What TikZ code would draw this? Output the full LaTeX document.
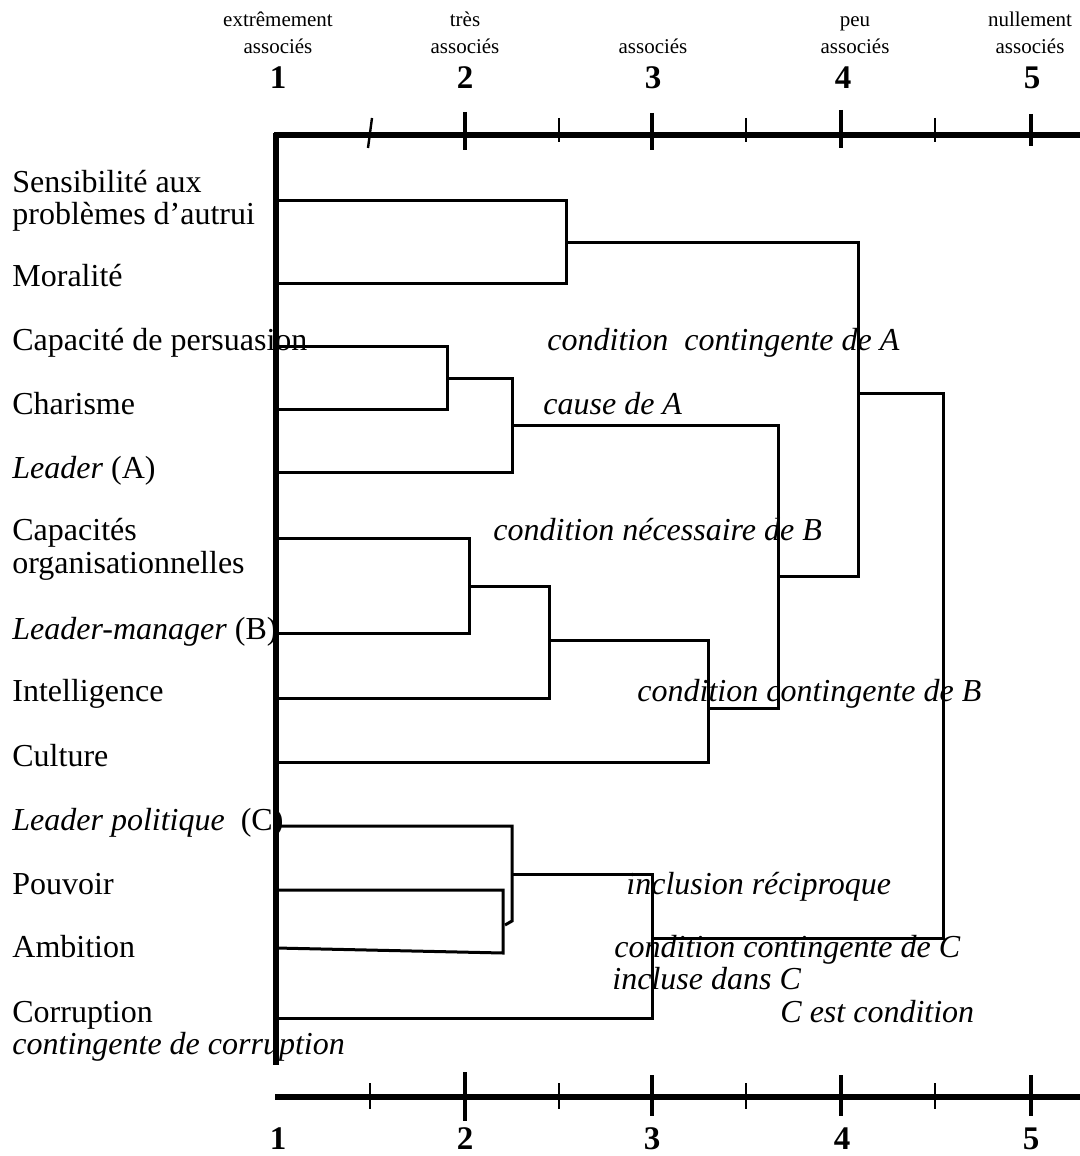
\documentclass[tikz,border=0pt]{standalone}
\usepackage{fontspec}
\setmainfont{Liberation Serif}
\begin{document}
\begin{tikzpicture}[x=0.5pt,y=-0.5pt,
  lbl/.style={anchor=base west,inner sep=0pt,font=\fontsize{16}{16}\selectfont},
  ann/.style={anchor=base west,inner sep=0pt,font=\fontsize{16}{16}\selectfont\itshape},
  hdr/.style={anchor=base,inner sep=0pt,font=\fontsize{10.5}{11}\selectfont},
  num/.style={anchor=base,inner sep=0pt,font=\fontsize{16.5}{17}\selectfont\bfseries},
  axisline/.style={line width=2.6pt},
  majortick/.style={line width=2.4pt},
  minortick/.style={line width=1.2pt},
  link/.style={line width=1.5pt,line join=miter}]
\useasboundingbox (0,0) rectangle (1080,1156);

% ---- scale headings ----
\node[hdr] (h1a) at (278,27) {extrêmement};
\node[hdr] (h1b) at (278,54) {associés};
\node[hdr] (h2a) at (465,27) {très};
\node[hdr] (h2b) at (465,54) {associés};
\node[hdr] (h3b) at (653,54) {associés};
\node[hdr] (h4a) at (855,27) {peu};
\node[hdr] (h4b) at (855,54) {associés};
\node[hdr] (h5a) at (1030,27) {nullement};
\node[hdr] (h5b) at (1030,54) {associés};
\node[num] (t1) at (278,89) {1};
\node[num] (t2) at (465,89) {2};
\node[num] (t3) at (653,89) {3};
\node[num] (t4) at (843,89) {4};
\node[num] (t5) at (1032,89) {5};

% ---- axes ----
\draw[axisline] (274,135) -- (1080,135);
\draw[axisline] (276,133) -- (276,1065);
\draw[axisline] (275,1097) -- (1080,1097);
% top ticks
\foreach \x/\a/\b in {465/112/150, 652/113/150, 841/110/148, 1031/114/146}
  \draw[majortick] (\x,\a) -- (\x,\b);
\foreach \x in {559,746,935}
  \draw[minortick] (\x,118) -- (\x,142);
\draw[minortick] (372,118) -- (368,148);
% bottom ticks
\draw[majortick] (465,1072) -- (465,1121);
\foreach \x in {652,841,1031}
  \draw[majortick] (\x,1075) -- (\x,1116);
\foreach \x in {370,559,746,935}
  \draw[minortick] (\x,1083) -- (\x,1109);
\node[num] (b1) at (278,1149) {1};
\node[num] (b2) at (465,1149) {2};
\node[num] (b3) at (652,1149) {3};
\node[num] (b4) at (842,1149) {4};
\node[num] (b5) at (1031,1149) {5};

% ---- item labels ----
\node[lbl] (n1a) at (12,192) {Sensibilité aux};
\node[lbl] (n1b) at (12,224) {problèmes d’autrui};
\node[lbl] (n2) at (12,286) {Moralité};
\node[lbl] (n3) at (12,350) {Capacité de persuasion};
\node[lbl] (n4) at (12,414) {Charisme};
\node[lbl] (n5) at (12,478) {\textit{Leader} (A)};
\node[lbl] (n6a) at (12,540) {Capacités};
\node[lbl] (n6b) at (12,573) {organisationnelles};
\node[lbl] (n7) at (12,639) {\textit{Leader-manager} (B)};
\node[lbl] (n8) at (12,701) {Intelligence};
\node[lbl] (n9) at (12,766) {Culture};
\node[lbl] (n10) at (12,830) {\textit{Leader politique}\ \ (C)};
\node[lbl] (n11) at (12,894) {Pouvoir};
\node[lbl] (n12) at (12,957) {Ambition};
\node[lbl] (n13) at (12,1022) {Corruption};
\node[ann] (n13b) at (12,1054) {contingente de corruption};

% ---- annotations ----
\node[ann] (a1) at (547,350) {condition\ \ contingente de A};
\node[ann] (a2) at (543,414) {cause de A};
\node[ann] (a3) at (493,540) {condition nécessaire de B};
\node[ann] (a4) at (637,701) {condition contingente de B};
\node[ann] (a5) at (626,894) {inclusion réciproque};
\node[ann] (a6) at (614,957) {condition contingente de C};
\node[ann] (a7) at (612,989) {incluse dans C};
\node[ann] (a8) at (780,1022) {C est condition};

% ---- leaves on the vertical axis ----
\coordinate (sens) at (276,200);
\coordinate (mor)  at (276,283);
\coordinate (pers) at (276,346);
\coordinate (char) at (276,409);
\coordinate (lda)  at (276,472);
\coordinate (capo) at (276,538);
\coordinate (ldm)  at (276,633);
\coordinate (intl) at (276,698);
\coordinate (cult) at (276,762);
\coordinate (ldp)  at (276,826);
\coordinate (pouv) at (276,890);
\coordinate (ambi) at (276,948);
\coordinate (corr) at (276,1018);

% ---- merge points ----
\coordinate (kSM)   at (566,242);
\coordinate (kPC)   at (447,378);
\coordinate (kPCA)  at (512,425);
\coordinate (kOB)   at (469,586);
\coordinate (kOBI)  at (549,640);
\coordinate (kOBIC) at (708,708);
\coordinate (kMid)  at (778,576);
\coordinate (kTop)  at (858,393);
\coordinate (kPA)   at (503,953);
\coordinate (kPAh)  at (505,925);
\coordinate (kLPA)  at (512,874);
\coordinate (kC)    at (652,938);
\coordinate (kRoot) at (943,660);

% ---- dendrogram ----
\draw[link] (sens) -| (kSM) |- (mor);
\draw[link] (pers) -| (kPC) |- (char);
\draw[link] (kPC) -| (kPCA) |- (lda);
\draw[link] (capo) -| (kOB) |- (ldm);
\draw[link] (kOB) -| (kOBI) |- (intl);
\draw[link] (kOBI) -| (kOBIC) |- (cult);
\draw[link] (kPCA) -| (kMid) |- (kOBIC);
\draw[link] (kSM) -| (kTop) |- (kMid);
\draw[link] (pouv) -| (kPA) -- (ambi);
\draw[link] (ldp) -| (kLPA) -- (512,921) -- (kPAh);
\draw[link] (kLPA) -| (kC) |- (corr);
\draw[link] (kTop) -| (kRoot) |- (kC);
\end{tikzpicture}
\end{document}
